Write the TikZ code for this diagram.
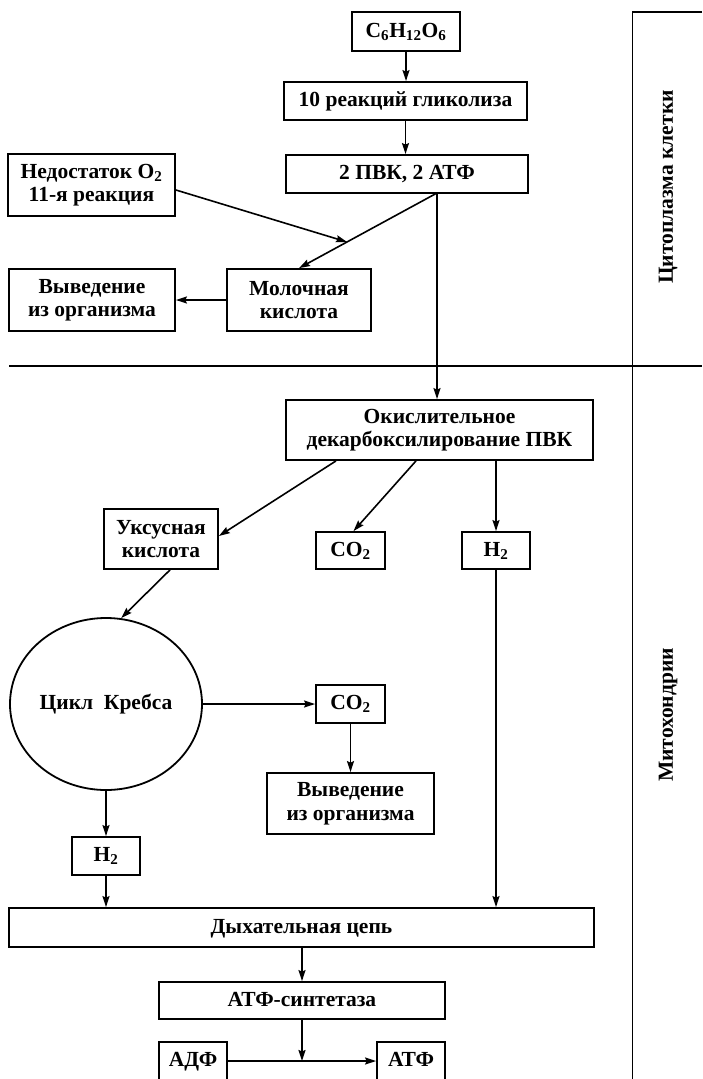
\documentclass[tikz,border=0pt]{standalone}
\usepackage{fontspec}
\setmainfont{Liberation Serif}
\usetikzlibrary{arrows.meta,calc,shapes.geometric}
\newcommand{\fsz}{\fontsize{21.5}{23.5}\selectfont\bfseries}
\begin{document}
\begin{tikzpicture}[x=1pt,y=-1pt,
  box/.style={draw, line width=1.8pt, inner sep=0pt, align=center, font=\fsz},
  one/.style={box, text height=16pt, text depth=5pt},
  arr/.style={-{Stealth[length=11pt,width=7pt,inset=1.5pt]}, line width=1.6pt},
  ln/.style={line width=1.8pt},
  lab/.style={font=\fsz, rotate=90}]
\useasboundingbox (0,0) rectangle (702,1079);
% dividers
\draw[ln] (9,366) -- (702,366);
\draw[ln] (702,12) -- (632.5,12) -- (632.5,1080);
\node[lab] (cyto) at (668,187) {Цитоплазма клетки};
\node[lab] (mito) at (668,715) {Митохондрии};
% nodes
\node[one, minimum width=108pt, minimum height=39pt] (c6) at (406,31.5) {C\textsubscript{6}H\textsubscript{12}O\textsubscript{6}};
\node[one, minimum width=243pt, minimum height=38pt] (glyc) at (405.5,101) {10 реакций гликолиза};
\node[one, minimum width=242pt, minimum height=38pt] (pvk) at (407,174) {2 ПВК, 2 АТФ};
\node[box, minimum width=167pt, minimum height=62pt] (nedo) at (91.5,185) {Недостаток O\textsubscript{2}\\11-я реакция};
\node[box, minimum width=166pt, minimum height=62pt] (vyv1) at (92,300) {Выведение\\из организма};
\node[box, minimum width=144pt, minimum height=62pt] (mol) at (299,300) {Молочная\\кислота};
\node[box, minimum width=307pt, minimum height=60pt] (okis) at (439.5,430) {Окислительное\\декарбоксилирование ПВК};
\node[box, minimum width=114pt, minimum height=60pt] (uks) at (161,539) {Уксусная\\кислота};
\node[one, minimum width=69pt, minimum height=37pt] (co2a) at (350.5,550.5) {CO\textsubscript{2}};
\node[one, minimum width=68pt, minimum height=37pt] (h2a) at (496,550.5) {H\textsubscript{2}};
\node[one, ellipse, minimum width=192pt, minimum height=172pt] (krebs) at (106,704) {Цикл\ \ Кребса};
\node[one, minimum width=69pt, minimum height=38pt] (co2b) at (350.5,704) {CO\textsubscript{2}};
\node[box, minimum width=167pt, minimum height=61pt] (vyv2) at (350.5,803.5) {Выведение\\из организма};
\node[one, minimum width=68pt, minimum height=38pt] (h2b) at (106,856) {H\textsubscript{2}};
\node[one, minimum width=585pt, minimum height=39pt] (dyh) at (301.5,927.5) {Дыхательная цепь};
\node[one, minimum width=286pt, minimum height=37pt] (atps) at (302,1000.5) {АТФ-синтетаза};
\node[one, minimum width=68pt, minimum height=38pt] (adf) at (193,1061) {АДФ};
\node[one, minimum width=68pt, minimum height=38pt] (atf) at (411,1061) {АТФ};
% connectors
\draw[arr] (c6.south) -- (c6.south |- glyc.north);
\draw[arr] (glyc.south) -- (glyc.south |- pvk.north);
\coordinate (pvkout) at (437,193);
\coordinate (join) at ($(pvkout)!0.652!(mol.north)$);
\draw[arr] (pvkout) -- (pvkout |- okis.north);
\draw[arr] (pvkout) -- (mol.north);
\draw[arr] ([yshift=-5pt]nedo.east) -- (join);
\draw[arr] (mol.west) -- (vyv1.east);
\draw[arr] ([xshift=-103.5pt]okis.south) -- ([yshift=3pt]uks.east);
\draw[arr] ([xshift=-23.5pt]okis.south) -- ([xshift=3pt]co2a.north);
\draw[arr] (okis.south -| h2a.north) -- (h2a.north);
\draw[arr] ([xshift=9pt]uks.south) -- (krebs.80);
\draw[arr] (krebs.east) -- (co2b.west);
\draw[arr] (co2b.south) -- (vyv2.north);
\draw[arr] (h2a.south) -- (h2a.south |- dyh.north);
\draw[arr] (krebs.south) -- (h2b.north);
\draw[arr] (h2b.south) -- (h2b.south |- dyh.north);
\draw[arr] (dyh.south -| atps.north) -- (atps.north);
\draw[arr] (atps.south) -- (atps.south |- adf.east);
\draw[arr] (adf.east) -- (atf.west);
\end{tikzpicture}
\end{document}
